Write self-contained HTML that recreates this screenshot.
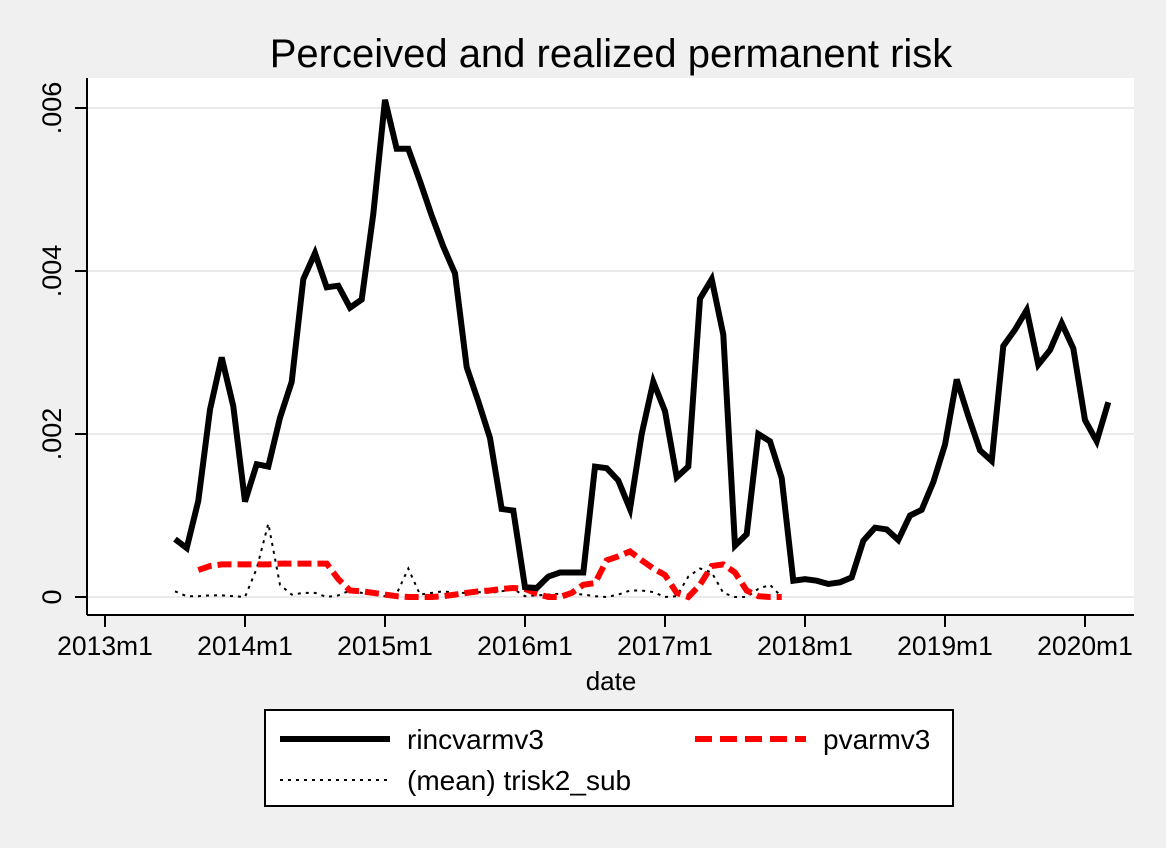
<!DOCTYPE html>
<html><head><meta charset="utf-8"><style>
body{margin:0;background:#f0f0f0;}
svg{display:block;font-family:"Liberation Sans",Arial,sans-serif;}
</style></head><body>
<svg id="chart" width="1166" height="848" viewBox="0 0 1166 848">
<rect x="0" y="0" width="1166" height="848" fill="#f0f0f0"/>
<text x="611" y="67" font-size="40" text-anchor="middle">Perceived and realized permanent risk</text>
<rect x="87" y="78" width="1047" height="537" fill="#fff"/>
<g id="grid"></g>
<g id="series"></g>
<line x1="87" y1="78" x2="87" y2="615" stroke="#000" stroke-width="2"/>
<line x1="87" y1="615" x2="1134" y2="615" stroke="#000" stroke-width="2"/>
<g id="axes"></g>
<text x="611" y="690" font-size="26" text-anchor="middle">date</text>
<g>
<rect x="265" y="710" width="688" height="96" fill="#fff" stroke="#000" stroke-width="2"/>
<line x1="280" y1="739" x2="390" y2="739" stroke="#000" stroke-width="6"/>
<text x="407" y="749" font-size="28">rincvarmv3</text>
<line x1="695" y1="739" x2="806" y2="739" stroke="#f00" stroke-width="6" stroke-dasharray="17,8"/>
<text x="823" y="749" font-size="28">pvarmv3</text>
<line x1="280" y1="780" x2="388" y2="780" stroke="#000" stroke-width="2" stroke-dasharray="3,5"/>
<text x="407" y="790" font-size="28">(mean) trisk2_sub</text>
</g>
</svg>
<script>
const xTickLabels=["2013m1","2014m1","2015m1","2016m1","2017m1","2018m1","2019m1","2020m1"];
const yTickValues=[0,0.002,0.004,0.006];
const yTickLabels=["0",".002",".004",".006"];
const rincStart=6; // 2013m7 as month index from 2013m1
const rincvarmv3=[0.00071,0.0006,0.00118,0.0023,0.00294,0.00234,0.00117,0.00163,0.0016,0.0022,0.00264,0.0039,0.00422,0.0038,0.00382,0.00355,0.00365,0.0047,0.0061,0.0055,0.0055,0.0051,0.00468,0.0043,0.00397,0.00282,0.0024,0.00195,0.00108,0.00106,0.00012,0.00011,0.00025,0.0003,0.0003,0.0003,0.0016,0.00158,0.00143,0.00108,0.002,0.00264,0.00228,0.00147,0.0016,0.00366,0.0039,0.00322,0.00063,0.00077,0.002,0.00191,0.00146,0.0002,0.00022,0.0002,0.00016,0.00018,0.00024,0.00069,0.00085,0.00083,0.0007,0.001,0.00107,0.00141,0.00187,0.00267,0.00222,0.0018,0.00167,0.00308,0.00328,0.00352,0.00285,0.00303,0.00336,0.00305,0.00217,0.00191,0.00239];
const pStart=8; // 2013m9
const pvarmv3=[0.00033,0.00038,0.0004,0.0004,0.0004,0.0004,0.0004,0.00041,0.00041,0.00041,0.00041,0.00041,0.00022,0.00008,0.00007,0.00005,0.00003,0.00001,0,0,0,0.00001,0.00003,0.00005,0.00007,0.00008,0.0001,0.00011,0.0001,0.00004,0,0,0.00005,0.00015,0.00017,0.00045,0.0005,0.00056,0.00045,0.00035,0.00027,0.00005,0,0.00015,0.00038,0.0004,0.0003,0.00008,0.00001,0,0];
const tStart=6; // 2013m7
const trisk2=[0.00007,0.00001,0.00001,0.00002,0.00002,0.00001,0,0.00035,0.0009,0.00015,0.00003,0.00005,0.00005,0,0.00002,0.00008,0.00005,0.00003,0.00001,0.00004,0.00035,0.00003,0.00005,0.00007,0.00005,0.00005,0.00006,0.00005,0.00007,0.0001,0.00001,0.00002,0.00003,0.00004,0.00004,0.00003,0.00001,0,0.00003,0.00008,0.00008,0.00006,0,0.00001,0.00025,0.00035,0.0003,0.00005,0,0,0.0001,0.00015,0];
const NS='http://www.w3.org/2000/svg';
function xScale(m){return 105+m*(140/12);}
function yScale(v){return 597-v*81500;}
function mk(tag,attrs,parent){const e=document.createElementNS(NS,tag);for(const k in attrs)e.setAttribute(k,attrs[k]);parent.appendChild(e);return e;}
const grid=document.getElementById('grid'),axes=document.getElementById('axes'),series=document.getElementById('series');
yTickValues.forEach((v,i)=>{
  const y=yScale(v);
  const g=mk('line',{x1:87,x2:1134,y1:y,y2:y,stroke:'#eaeaea','stroke-width':2},grid);
  
  
  const t=mk('line',{x1:75,x2:87,y1:y,y2:y,stroke:'#000','stroke-width':2},axes);
  
  
  const l=mk('text',{x:0,y:0,'font-size':27,'text-anchor':'middle',transform:`translate(61,${y}) rotate(-90)`},axes);
  l.textContent=yTickLabels[i];
  
  
});
xTickLabels.forEach((s,i)=>{
  const x=xScale(i*12);
  const t=mk('line',{x1:x,x2:x,y1:615,y2:627,stroke:'#000','stroke-width':2},axes);
  
  
  const l=mk('text',{x:x,y:655,'font-size':26.5,'text-anchor':'middle'},axes);
  l.textContent=s;
  
  
});
function pts(arr,start){return arr.map((v,i)=>xScale(start+i).toFixed(1)+','+yScale(v).toFixed(1)).join(' ');}
const tl=mk('polyline',{points:pts(trisk2,tStart),fill:'none',stroke:'#000','stroke-width':2,'stroke-dasharray':'3,5'},series);


const pl=mk('polyline',{points:pts(pvarmv3,pStart),fill:'none',stroke:'#f00','stroke-width':6,'stroke-dasharray':'14,6'},series);


const rl=mk('polyline',{points:pts(rincvarmv3,rincStart),fill:'none',stroke:'#000','stroke-width':6,'stroke-linejoin':'miter'},series);


</script>
</body></html>
